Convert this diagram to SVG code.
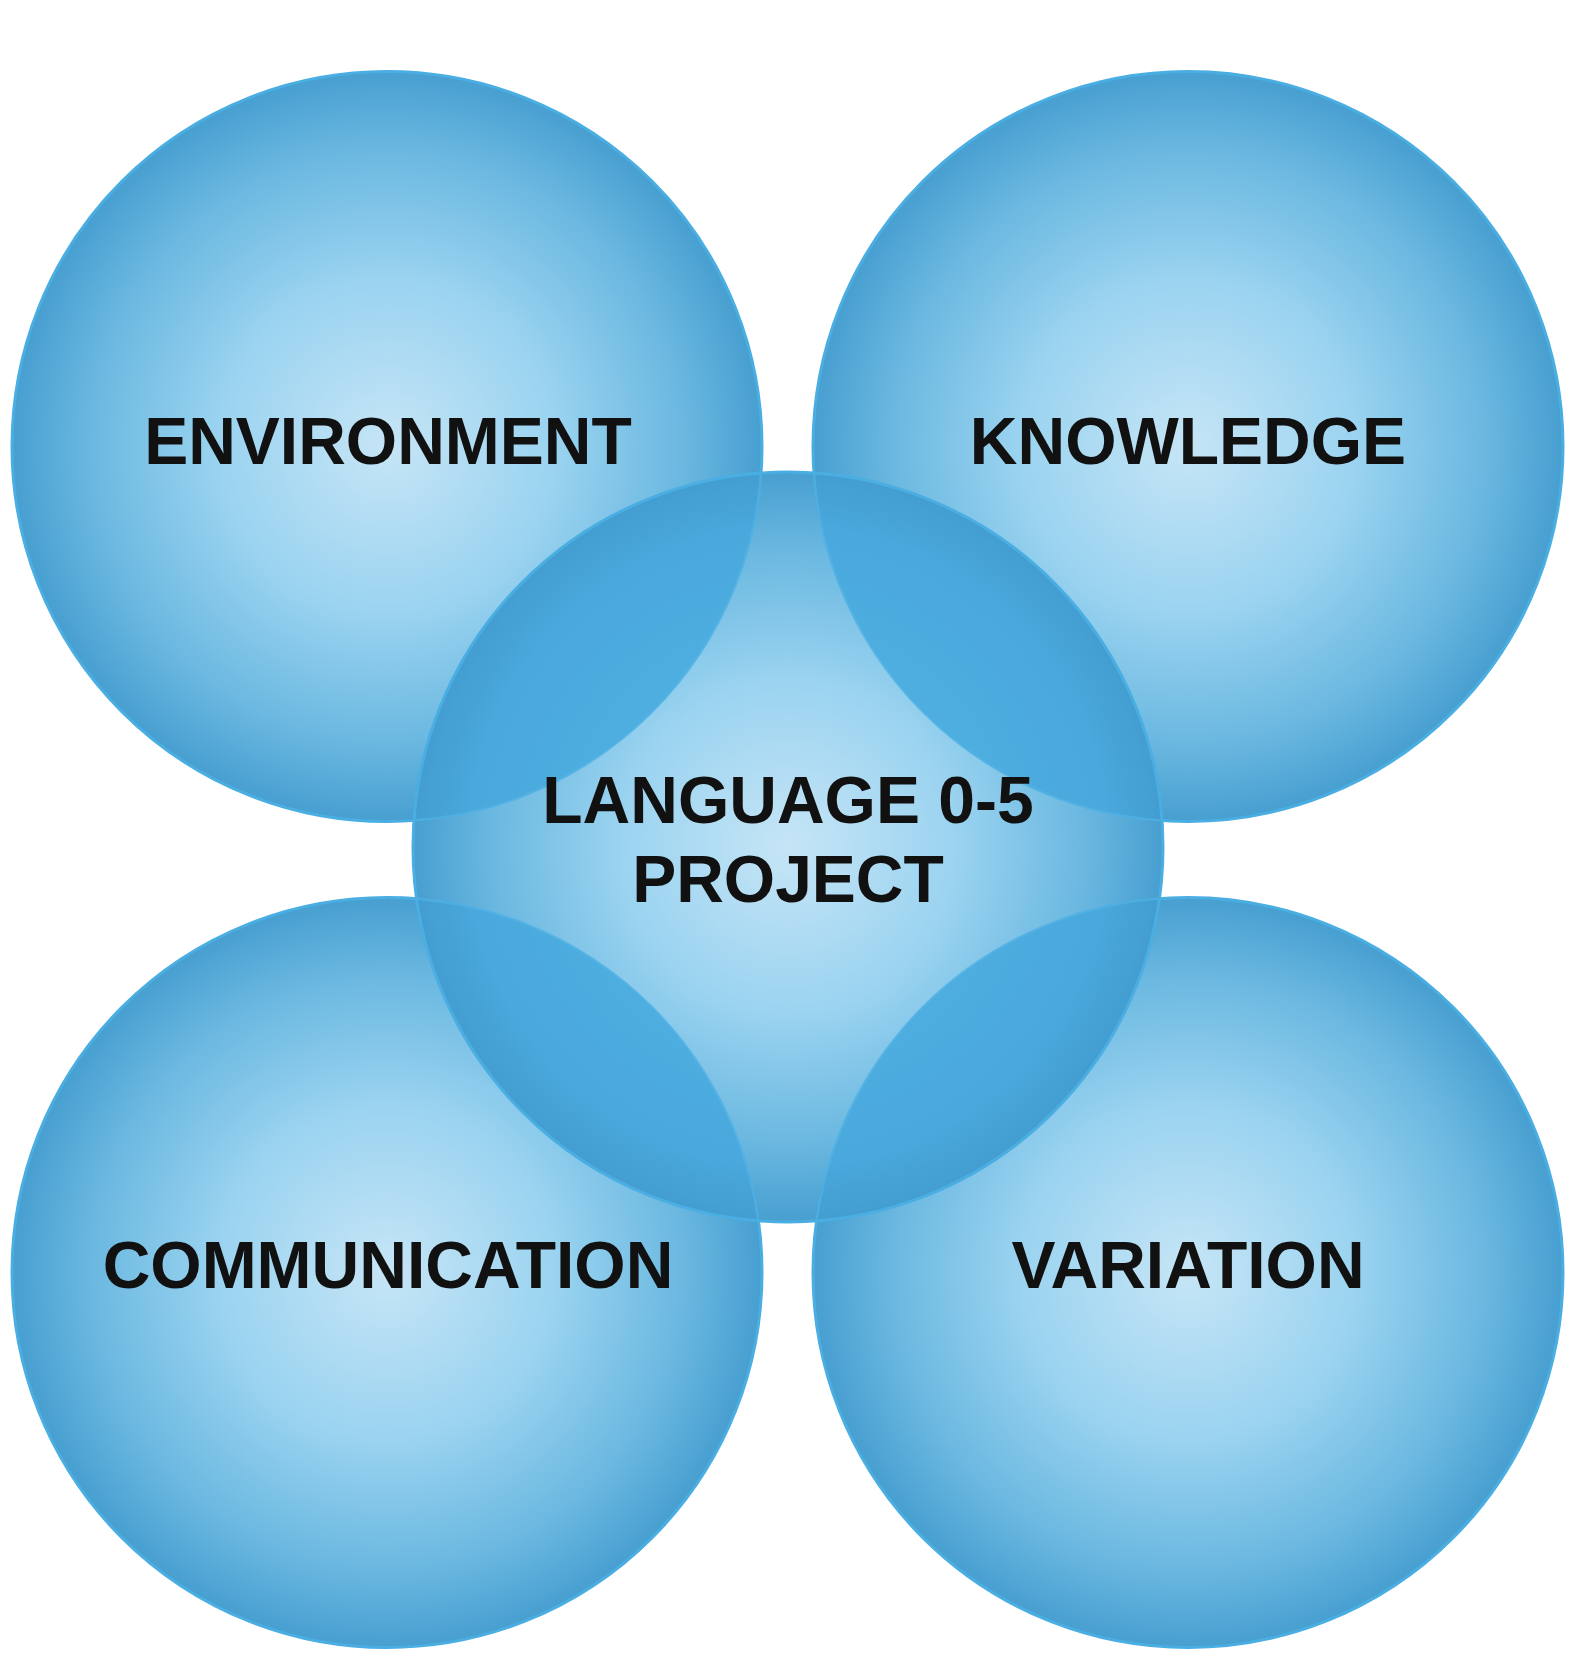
<svg xmlns="http://www.w3.org/2000/svg" width="1585" height="1665" viewBox="0 0 1585 1665">
<style>
.c{stroke:#4aaee2;stroke-width:3}
.s{fill:none;stroke:#4fb0e3;stroke-width:2.5;stroke-opacity:0.8}
.lens{fill:url(#lg)}
.t{font-family:"Liberation Sans",Arial,sans-serif;font-weight:bold;font-size:66px;text-anchor:middle;fill:#111}
</style>
<defs>
<radialGradient id="g" cx="0.5" cy="0.5" r="0.5">
<stop offset="0" stop-color="#c6e5f6"/>
<stop offset="0.45" stop-color="#9ad3f0"/>
<stop offset="0.8" stop-color="#69b7e0"/>
<stop offset="1" stop-color="#479fd0"/>
</radialGradient>
<radialGradient id="lg" gradientUnits="userSpaceOnUse" cx="788" cy="847" r="375">
<stop offset="0.55" stop-color="#4eaee0"/>
<stop offset="0.85" stop-color="#4aa8dc"/>
<stop offset="1" stop-color="#439dd0"/>
</radialGradient>
<clipPath id="cc"><circle cx="788" cy="847" r="375"/></clipPath>
</defs>
<rect width="1585" height="1665" fill="#fff"/>
<g id="environment"><circle class="c" cx="387" cy="446.5" r="375" fill="url(#g)"/></g>
<g id="knowledge"><circle class="c" cx="1188" cy="446.5" r="375" fill="url(#g)"/></g>
<g id="communication"><circle class="c" cx="387" cy="1272.5" r="375" fill="url(#g)"/></g>
<g id="variation"><circle class="c" cx="1188" cy="1272.5" r="375" fill="url(#g)"/></g>
<g id="language">
<circle cx="788" cy="847" r="375" fill="url(#g)"/>
<g clip-path="url(#cc)">
<circle class="lens" cx="387" cy="446.5" r="375"/>
<circle class="lens" cx="1188" cy="446.5" r="375"/>
<circle class="lens" cx="387" cy="1272.5" r="375"/>
<circle class="lens" cx="1188" cy="1272.5" r="375"/>
<circle class="s" cx="387" cy="446.5" r="375"/>
<circle class="s" cx="1188" cy="446.5" r="375"/>
<circle class="s" cx="387" cy="1272.5" r="375"/>
<circle class="s" cx="1188" cy="1272.5" r="375"/>
</g>
<circle cx="788" cy="847" r="375" fill="none" stroke="#4aaee2" stroke-width="3"/>
</g>
<g id="connectors"></g>
<g id="labels">
<text class="t" x="388" y="464" fill="#1c1c1c">ENVIRONMENT</text>
<text class="t" x="1188" y="464">KNOWLEDGE</text>
<text class="t" x="788" y="823">LANGUAGE 0-5</text>
<text class="t" x="788" y="902">PROJECT</text>
<text class="t" x="388" y="1288">COMMUNICATION</text>
<text class="t" x="1188" y="1288">VARIATION</text>
</g>
</svg>
